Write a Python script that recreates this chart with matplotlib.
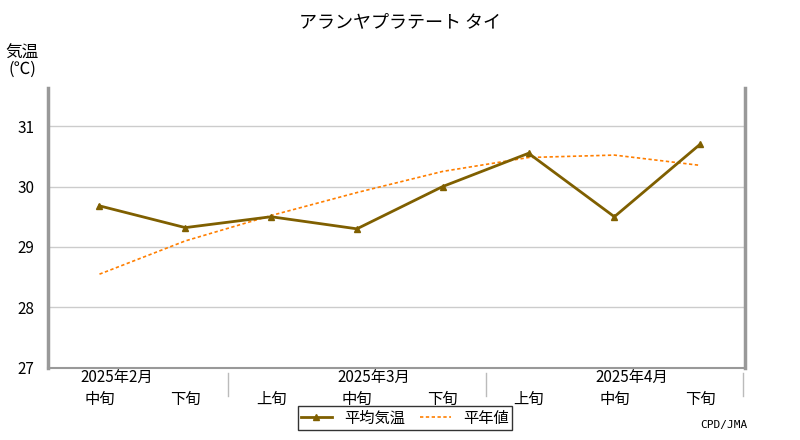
import matplotlib
matplotlib.use("Agg")
import matplotlib.pyplot as plt
from matplotlib.lines import Line2D

plt.rcParams['font.family'] = ['Noto Sans CJK JP', 'DejaVu Sans']

periods = ["中旬", "下旬", "上旬", "中旬", "下旬", "上旬", "中旬", "下旬"]
months = ["2025年2月", "2025年3月", "2025年4月"]
month_pos = [0.2, 3.2, 6.2]
separators = [1.5, 4.5, 7.5]
avg_temp = [29.68, 29.32, 29.50, 29.30, 30.00, 30.55, 29.50, 30.70]
normal = [28.55, 29.10, 29.52, 29.90, 30.25, 30.48, 30.52, 30.35]
yticks = [27, 28, 29, 30, 31]

fig = plt.figure(figsize=(8, 4.4), dpi=100)
ax = fig.add_axes([0.06, 0.164, 0.871, 0.636])
x = list(range(len(periods)))
ax.plot(x, normal, color='#FF7F00', lw=1.2, ls=(0, (2, 1.5)), zorder=2)
ax.plot(x, avg_temp, color='#7F5F00', lw=2, marker='^', ms=5, zorder=3)
ax.set_xlim(-0.6, 7.52)
ax.set_ylim(27, 31.63)
ax.set_yticks(yticks)
ax.yaxis.grid(True, color='#cccccc', lw=1)
ax.set_axisbelow(True)
ax.tick_params(axis='y', length=0, labelsize=11, pad=10)
ax.set_xticks(x)
ax.set_xticklabels(periods, fontsize=11)
ax.tick_params(axis='x', length=0, pad=17)
for s in ['left', 'right']:
    ax.spines[s].set_color('#999999'); ax.spines[s].set_linewidth(2.5)
ax.spines['bottom'].set_color('#999999'); ax.spines['bottom'].set_linewidth(1.5)
ax.spines['top'].set_visible(False)
for s in separators:
    ax.plot([s, s], [-0.02, -0.1], transform=ax.get_xaxis_transform(), color='#bbbbbb', lw=1, clip_on=False)
for m, p in zip(months, month_pos):
    ax.text(p, -0.005, m, transform=ax.get_xaxis_transform(), ha='center', va='top', fontsize=11)

fig.text(0.5, 0.95, "アランヤプラテート タイ", ha='center', va='center', fontsize=13)
fig.text(0.028, 0.86, "気温\n(℃)", ha='center', va='center', fontsize=12, linespacing=0.9)
fig.text(0.905, 0.033, "CPD/JMA", ha='center', va='center', fontsize=8, family='DejaVu Sans Mono')
handles = [Line2D([], [], color='#7F5F00', lw=2, marker='^', ms=5),
           Line2D([], [], color='#FF7F00', lw=1.2, ls=(0, (2, 1.5)))]
fig.legend(handles, ["平均気温", "平年値"], loc='center', bbox_to_anchor=(0.506, 0.05), ncol=2,
           fontsize=11, frameon=True, fancybox=False, edgecolor='black', handlelength=2,
           borderpad=0.2, columnspacing=1.0)
fig.savefig("out.png", dpi=100)
